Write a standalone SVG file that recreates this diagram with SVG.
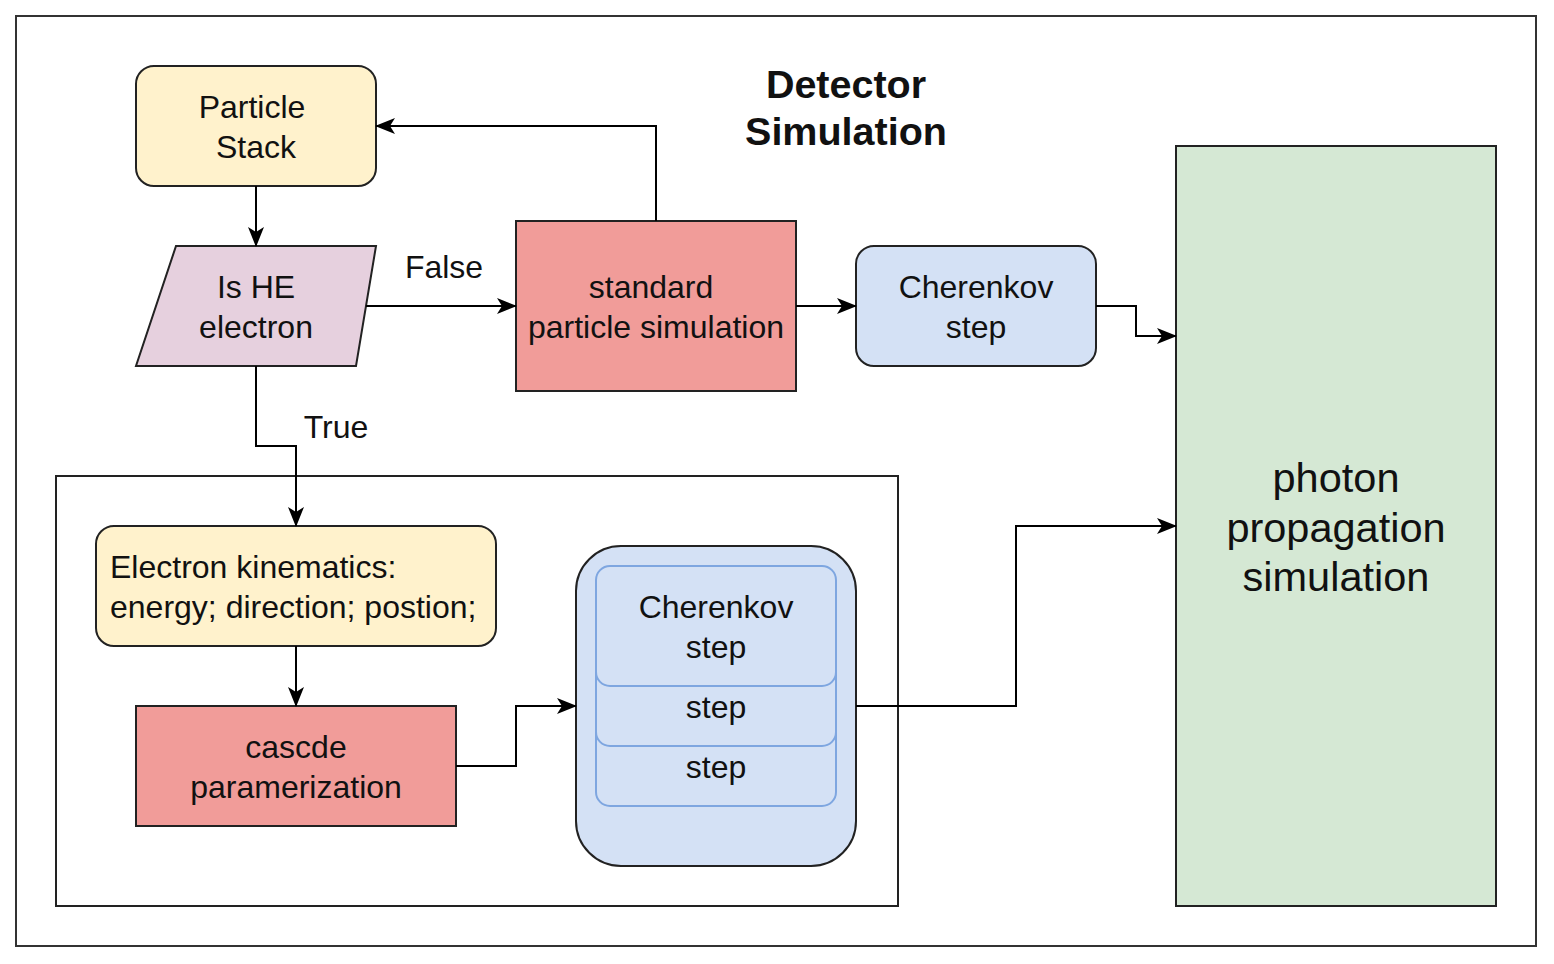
<svg xmlns="http://www.w3.org/2000/svg" width="1554" height="964" viewBox="0 0 1554 964">
<defs>
<marker id="arr" markerUnits="userSpaceOnUse" markerWidth="20" markerHeight="16" refX="19" refY="8" orient="auto">
<path d="M0,0 L20,8 L0,16 L5,8 Z" fill="#000"/>
</marker>
<style>
.t{font-family:"Liberation Sans",Arial,sans-serif;font-size:32px;fill:#111;text-anchor:middle}
.b{stroke:#222;stroke-width:2}
.c{fill:none;stroke:#000;stroke-width:2;marker-end:url(#arr)}
</style>
</defs>
<rect x="0" y="0" width="1554" height="964" fill="#fff"/>
<rect x="16" y="16" width="1520" height="930" fill="#fff" stroke="#333" stroke-width="2"/>
<g id="title">
<text x="846" y="98" class="t" style="font-weight:bold;font-size:39.5px">Detector</text>
<text x="846" y="145" class="t" style="font-weight:bold;font-size:39.5px">Simulation</text>
</g>
<g id="group-box"><rect x="56" y="476" width="842" height="430" fill="#fff" stroke="#222" stroke-width="2"/></g>
<g id="particle-stack">
<rect x="136" y="66" width="240" height="120" rx="18" fill="#fff2cc" class="b"/>
<text x="252" y="118" class="t">Particle</text>
<text x="256" y="158" class="t">Stack</text>
</g>
<g id="is-he-electron">
<polygon points="176,246 376,246 356,366 136,366" fill="#e6d0de" class="b"/>
<text x="256" y="298" class="t">Is HE</text>
<text x="256" y="338" class="t">electron</text>
</g>
<g id="standard-sim">
<rect x="516" y="221" width="280" height="170" fill="#f19c99" class="b"/>
<text x="651" y="298" class="t">standard</text>
<text x="656" y="338" class="t">particle simulation</text>
</g>
<g id="cherenkov-step">
<rect x="856" y="246" width="240" height="120" rx="18" fill="#d4e1f5" class="b"/>
<text x="976" y="298" class="t">Cherenkov</text>
<text x="976" y="338" class="t">step</text>
</g>
<g id="photon-propagation">
<rect x="1176" y="146" width="320" height="760" fill="#d5e8d4" class="b"/>
<text x="1336" y="492" class="t" style="font-size:41.5px">photon</text>
<text x="1336" y="542" class="t" style="font-size:41.5px">propagation</text>
<text x="1336" y="591" class="t" style="font-size:41.5px">simulation</text>
</g>
<g id="electron-kinematics">
<rect x="96" y="526" width="400" height="120" rx="18" fill="#fff2cc" class="b"/>
<text x="110" y="578" class="t" style="text-anchor:start">Electron kinematics:</text>
<text x="110" y="618" class="t" style="text-anchor:start">energy; direction; postion;</text>
</g>
<g id="cascade-param">
<rect x="136" y="706" width="320" height="120" fill="#f19c99" class="b"/>
<text x="296" y="758" class="t">cascde</text>
<text x="296" y="798" class="t">paramerization</text>
</g>
<g id="cherenkov-container">
<rect x="576" y="546" width="280" height="320" rx="45" fill="#d4e1f5" class="b"/>
<rect x="596" y="686" width="240" height="120" rx="14" fill="#d4e1f5" stroke="#7ea6e0" stroke-width="2"/>
<rect x="596" y="626" width="240" height="120" rx="14" fill="#d4e1f5" stroke="#7ea6e0" stroke-width="2"/>
<rect x="596" y="566" width="240" height="120" rx="14" fill="#d4e1f5" stroke="#7ea6e0" stroke-width="2"/>
<text x="716" y="618" class="t">Cherenkov</text>
<text x="716" y="658" class="t">step</text>
<text x="716" y="718" class="t">step</text>
<text x="716" y="778" class="t">step</text>
</g>
<g id="connectors">
<path d="M256,186 L256,246" class="c"/>
<path d="M366,306 L516,306" class="c"/>
<path d="M656,221 L656,126 L376,126" class="c"/>
<path d="M796,306 L856,306" class="c"/>
<path d="M1096,306 L1136,306 L1136,336 L1176,336" class="c"/>
<path d="M256,366 L256,446 L296,446 L296,526" class="c"/>
<path d="M296,646 L296,706" class="c"/>
<path d="M456,766 L516,766 L516,706 L576,706" class="c"/>
<path d="M856,706 L1016,706 L1016,526 L1176,526" class="c"/>
<text x="444" y="278" class="t">False</text>
<text x="336" y="438" class="t">True</text>
</g>
</svg>
